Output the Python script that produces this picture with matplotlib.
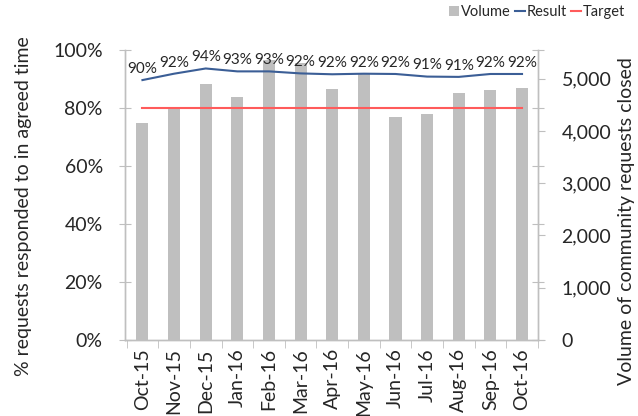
import matplotlib.pyplot as plt
import numpy as np
from matplotlib.ticker import FuncFormatter

plt.rcParams['font.family'] = ['Lato', 'DejaVu Sans']

months = ['Oct-15', 'Nov-15', 'Dec-15', 'Jan-16', 'Feb-16', 'Mar-16', 'Apr-16',
          'May-16', 'Jun-16', 'Jul-16', 'Aug-16', 'Sep-16', 'Oct-16']
volume = [4150, 4460, 4900, 4650, 5350, 5300, 4800, 5080, 4270, 4330, 4730, 4790, 4830]
result = [89.6, 91.8, 93.6, 92.6, 92.6, 91.9, 91.6, 91.8, 91.7, 90.8, 90.7, 91.7, 91.7]
target = [80] * len(months)

axis_grey = '#BFBFBF'
text_col = '#262626'

fig = plt.figure(figsize=(6.38, 4.16), dpi=100)
ax1 = fig.add_axes([0.196, 0.183, 0.647, 0.697])
ax2 = ax1.twinx()

x = np.arange(len(months))

# bars on secondary axis, drawn behind the lines
ax2.bar(x, volume, width=0.38, color='#BFBFBF', label='Volume', zorder=1)
ax1.set_zorder(ax2.get_zorder() + 1)
ax1.patch.set_visible(False)

l1, = ax1.plot(x, result, color='#3B5E96', lw=1.5, label='Result')
l2, = ax1.plot(x, target, color='#FF5B5B', lw=1.5, label='Target')

for xi, v in zip(x, result):
    ax1.annotate(f'{v:.0f}%', (xi, v), xytext=(0, 3), textcoords='offset points',
                 ha='center', va='bottom', fontsize=11, color=text_col)

ax1.set_xlim(-0.55, len(months) - 0.5)
ax1.set_ylim(0, 100)
ax1.set_yticks(np.arange(0, 101, 20))
ax1.yaxis.set_major_formatter(FuncFormatter(lambda v, p: f'{v:.0f}%'))
ax2.set_ylim(0, 5550)
ax2.set_yticks(np.arange(0, 5001, 1000))
ax2.yaxis.set_major_formatter(FuncFormatter(lambda v, p: f'{v:,.0f}'))

ax1.set_xticks(x)
ax1.set_xticklabels(months, rotation=90, fontsize=14, color=text_col)
ax1.set_xticks(np.arange(-0.5, len(months)), minor=True)
ax1.tick_params(axis='x', which='major', length=0, pad=6)
ax1.tick_params(axis='x', which='minor', length=6, color=axis_grey, direction='out')

ax1.tick_params(axis='y', labelsize=14, labelcolor=text_col, color=axis_grey,
                direction='inout', length=8, pad=12)
ax1.tick_params(axis='y', right=True, labelright=False)
ax2.tick_params(axis='y', labelsize=14, labelcolor=text_col, color=axis_grey,
                direction='out', length=5, pad=12)

for ax in (ax1, ax2):
    ax.spines['top'].set_visible(False)
    for s in ('left', 'right', 'bottom'):
        ax.spines[s].set_color(axis_grey)
        ax.spines[s].set_linewidth(1)

ax1.set_ylabel('% requests responded to in agreed time', fontsize=14, color=text_col)
ax1.yaxis.set_label_coords(-0.225, 0.46)
ax2.set_ylabel('Volume of community requests closed', fontsize=14, color=text_col,
               rotation=90)
ax2.yaxis.set_label_coords(1.193, 0.41)

bars = ax2.containers[0]
fig.legend([bars, l1, l2], ['Volume', 'Result', 'Target'], loc='upper right',
           bbox_to_anchor=(1.0, 1.02), ncol=3, frameon=False, fontsize=10.5,
           handlelength=0.7, handleheight=0.7, handletextpad=0.1, columnspacing=0.3,
           labelcolor=text_col)

fig.savefig('out.png', dpi=100)
